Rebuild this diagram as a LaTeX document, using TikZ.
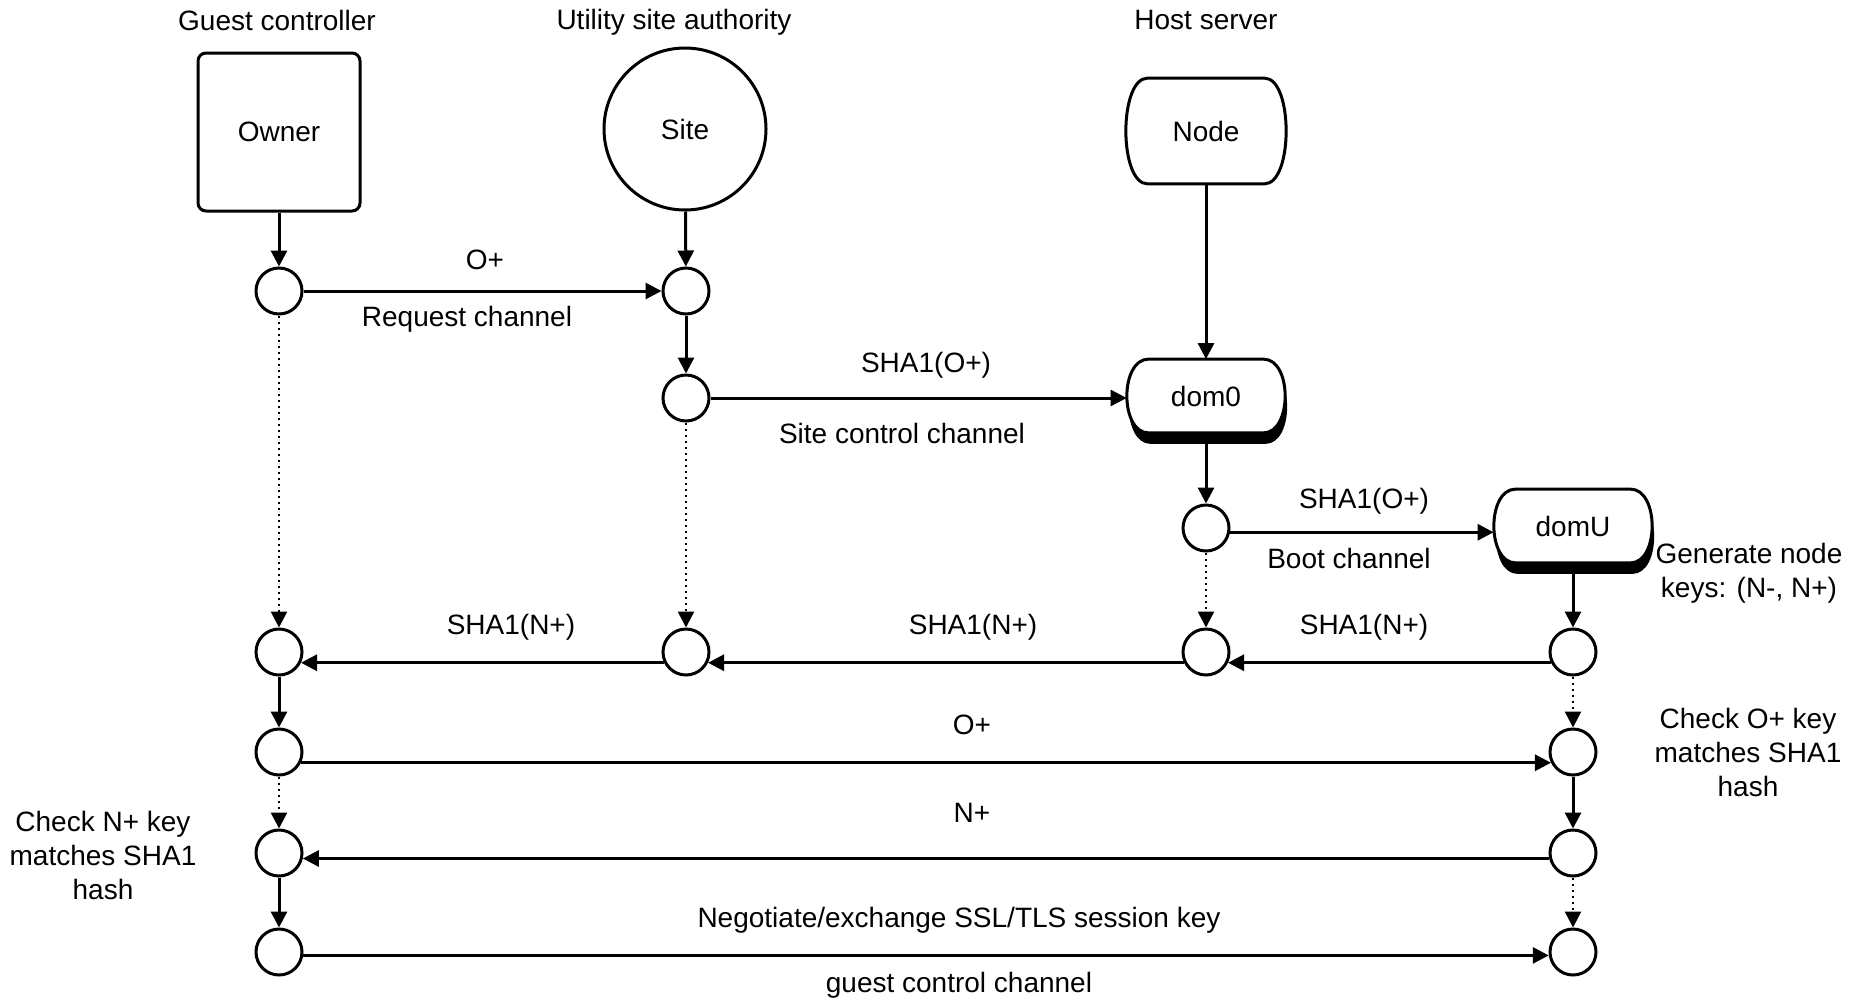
\documentclass[tikz,border=0pt]{standalone}
\usepackage{fontspec}
\setmainfont{Liberation Sans}
\usetikzlibrary{arrows.meta, positioning, calc, backgrounds}

% outline with bulging sides, drawn round a node (#2,#3: offset)
\newcommand{\bulgepath}[3]{%
  ([xshift=#2,yshift=#3,xshift=11pt]#1.north west) -- ([xshift=#2,yshift=#3,xshift=-11pt]#1.north east)
  .. controls ([xshift=#2,yshift=#3,xshift=3.5pt]#1.north east) and ([xshift=#2,yshift=#3,xshift=3.5pt]#1.south east)
  .. ([xshift=#2,yshift=#3,xshift=-11pt]#1.south east)
  -- ([xshift=#2,yshift=#3,xshift=11pt]#1.south west)
  .. controls ([xshift=#2,yshift=#3,xshift=-3.5pt]#1.south west) and ([xshift=#2,yshift=#3,xshift=-3.5pt]#1.north west)
  .. cycle}

\begin{document}
\begin{tikzpicture}[
  x=0.5pt, y=-0.5pt,
  every node/.style={font=\fontsize{14}{17}\selectfont},
  dot/.style={circle, draw, line width=1.5pt, minimum size=23pt, inner sep=0pt},
  ownerbox/.style={draw, line width=1.5pt, rounded corners=4pt,
                   minimum width=81pt, minimum height=79pt},
  sitebox/.style={circle, draw, line width=1.5pt, minimum size=81pt, inner sep=0pt},
  hostbox/.style={minimum width=80pt, minimum height=52.5pt, inner sep=0pt},
  dombox/.style={minimum width=79pt, minimum height=36.5pt, inner sep=0pt},
  outline/.style={line width=1.5pt, fill=white},
  arr/.style={-{Triangle[length=8pt,width=8pt]}, line width=1.5pt},
  dots/.style={-{Triangle[length=8pt,width=8pt]}, line width=1.3pt,
               dash pattern=on 1.3pt off 1.7pt}
]
\useasboundingbox (0,0) rectangle (1854,1002);

% column heads
\node (hguest) at (277,20)  {Guest controller};
\node (hsite)  at (674,22)  {Utility site authority};
\node (hhost)  at (1206,20) {Host server};

\node[ownerbox] (owner) at (279,132) {Owner};
\node[sitebox]  (site)  at (685,129) {Site};
\node[hostbox]  (host)  at (1206,131) {Node};
\node[dombox]   (dom0)  at (1206,396) {dom0};
\node[dombox]   (domU)  at (1573,526) {domU};

\begin{scope}[on background layer]
  \draw[line width=1.5pt] \bulgepath{host}{0pt}{0pt};
  \fill \bulgepath{dom0}{1pt}{-5.5pt};
  \draw[outline] \bulgepath{dom0}{0pt}{0pt};
  \fill \bulgepath{domU}{1pt}{-5.5pt};
  \draw[outline] \bulgepath{domU}{0pt}{0pt};
\end{scope}

% sync points
\node[dot] (a1) at (279,291) {};
\node[dot] (s1) at (686,291) {};
\node[dot] (s2) at (686,398) {};
\node[dot] (n1) at (1206,528) {};
\node[dot] (a2) at (279,652) {};
\node[dot] (s3) at (686,652) {};
\node[dot] (n2) at (1206,652) {};
\node[dot] (u1) at (1573,652) {};
\node[dot] (a3) at (279,752) {};
\node[dot] (u2) at (1573,752) {};
\node[dot] (a4) at (279,853) {};
\node[dot] (u3) at (1573,853) {};
\node[dot] (a5) at (279,952) {};
\node[dot] (u4) at (1573,952) {};

% solid flow
\draw[arr] (owner) -- (a1);
\draw[arr] (site) -- (s1);
\draw[arr] (a1) -- (s1);
\draw[arr] (s1) -- (s2);
\draw[arr] (s2) -- (s2 -| dom0.west);
\draw[arr] (host) -- (dom0);
\draw[arr] (dom0) -- (n1);
\draw[arr] (n1.-10) -- (n1.-10 -| domU.west);
\draw[arr] (domU) -- (u1);
\draw[arr] (u1.206) -- (n2.-26);
\draw[arr] (n2.206) -- (s3.-26);
\draw[arr] (s3.206) -- (a2.-26);
\draw[arr] (a2) -- (a3);
\draw[arr] (a3.-26) -- (u2.206);
\draw[arr] (u2) -- (u3);
\draw[arr] (u3.193) -- (a4.-13);
\draw[arr] (a4) -- (a5);
\draw[arr] (a5.-8) -- (u4.188);

% waiting
\draw[dots] (a1) -- (a2);
\draw[dots] (s2) -- (s3);
\draw[dots] (n1) -- (n2);
\draw[dots] (u1) -- (u2);
\draw[dots] (a3) -- (a4);
\draw[dots] (u3) -- (u4);

% channel labels
\node (lreqk)  at (485,260)  {O+};
\node (lreqch) at (467,319)  {Request channel};
\node (lsitek) at (926,365)  {SHA1(O+)};
\node (lsitch) at (902,433)  {Site control channel};
\node (lbootk) at (1364,501) {SHA1(O+)};
\node (lbootc) at (1349,558) {Boot channel};
\node[align=center] (lgen) at (1749,573) {Generate node\\keys: (N-, N+)};
\node (lnh1) at (511,627)  {SHA1(N+)};
\node (lnh2) at (973,627)  {SHA1(N+)};
\node (lnh3) at (1364,627) {SHA1(N+)};
\node (lok)  at (972,725)  {O+};
\node[align=center] (lchko) at (1748,752) {Check O+ key\\matches SHA1\\hash};
\node (lnk)  at (972,813)  {N+};
\node[align=center] (lchkn) at (103,855) {Check N+ key\\matches SHA1\\hash};
\node (lssl) at (959,920)  {Negotiate/exchange SSL/TLS session key};
\node (lgcc) at (959,985)  {guest control channel};

\end{tikzpicture}
\end{document}
